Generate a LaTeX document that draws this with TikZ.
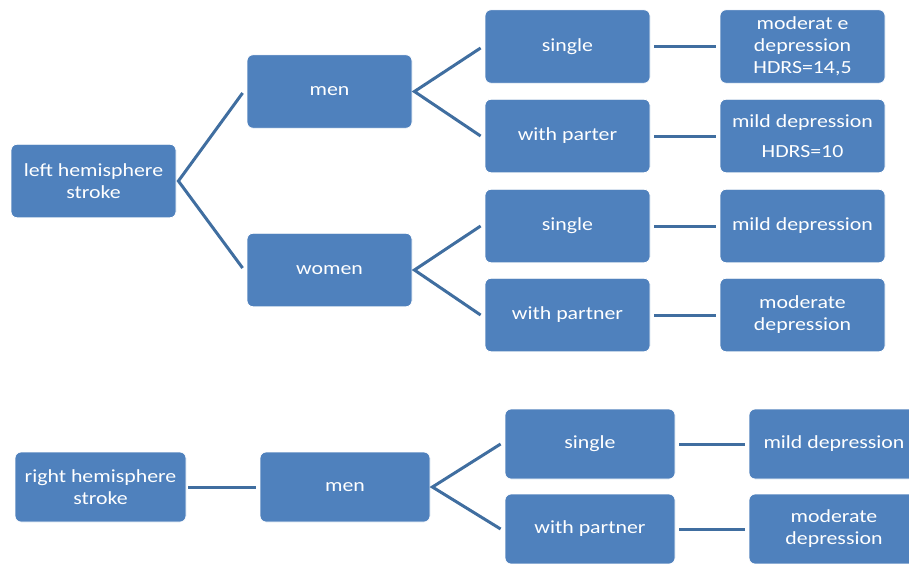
\documentclass[tikz,border=0pt]{standalone}
\usepackage{fontspec}
\setmainfont{Carlito}[FakeStretch=1.18]
\usetikzlibrary{calc}
\definecolor{boxfill}{RGB}{79,129,189}
\definecolor{linkcol}{RGB}{64,110,160}
\tikzset{
  box/.style={draw=white, line width=0.8pt, fill=boxfill, rounded corners=6pt,
    text=white, align=center, inner sep=0pt,
    font=\fontsize{18.5}{22}\selectfont},
  wide/.style={minimum width=165pt, minimum height=73.5pt},
  wider/.style={minimum width=170pt, minimum height=70pt},
  link/.style={draw=linkcol, line width=3pt}
}
\begin{document}
\begin{tikzpicture}[x=1pt, y=-1pt]
  \path[use as bounding box] (0,0) rectangle (909,563);
  \clip (0,0) rectangle (909,563);

  % left hemisphere tree
  \node[box, wide] (lh) at (93.5,181) {left hemisphere\\stroke};
  \node[box, wide] (men) at (329.5,91.5) {men};
  \node[box, wide] (women) at (329.5,270) {women};
  \node[box, wide] (ms) at (567.5,46.5) {single};
  \node[box, wide] (mp) at (567.5,136) {with parter};
  \node[box, wide] (ws) at (567.5,226) {single};
  \node[box, wide] (wp) at (567.5,315) {with partner};
  \node[box, wide] (msr) at (802.5,46.5) {moderat e\\depression\\HDRS=14,5};
  \node[box, wide] (mpr) at (802.5,136) {mild depression\\[8pt]HDRS=10};
  \node[box, wide] (wsr) at (802.5,226) {mild depression};
  \node[box, wide] (wpr) at (802.5,315) {moderate\\depression};

  \draw[link] ($(men.west)+(-4,1.5)$) -- ($(lh.east)+(2,0)$) -- ($(women.west)+(-4,-2)$);
  \draw[link] ($(ms.west)+(-4,1.5)$) -- ($(men.east)+(2,0)$) -- ($(mp.west)+(-4,0)$);
  \draw[link] ($(ws.west)+(-4,0)$) -- ($(women.east)+(2,0)$) -- ($(wp.west)+(-4,0)$);
  \draw[link] ($(ms.east)+(4,0)$) -- ($(msr.west)+(-4,0)$);
  \draw[link] ($(mp.east)+(4,0)$) -- ($(mpr.west)+(-4,0)$);
  \draw[link] ($(ws.east)+(4,0)$) -- ($(wsr.west)+(-4,0)$);
  \draw[link] ($(wp.east)+(4,0)$) -- ($(wpr.west)+(-4,0)$);

  % right hemisphere tree
  \node[box, wider, minimum width=171pt] (rh) at (100.5,487) {right hemisphere\\stroke};
  \node[box, wider] (rmen) at (345,487) {men};
  \node[box, wider] (rs) at (590,444) {single};
  \node[box, wider] (rp) at (590,529) {with partner};
  \node[box, wider] (rsr) at (834,444) {mild depression};
  \node[box, wider] (rpr) at (834,529) {moderate\\depression};

  \draw[link] ($(rh.east)+(2,0)$) -- ($(rmen.west)+(-4,0)$);
  \draw[link] ($(rs.west)+(-4,0)$) -- ($(rmen.east)+(2,0)$) -- ($(rp.west)+(-4,0)$);
  \draw[link] ($(rs.east)+(4,0)$) -- ($(rsr.west)+(-4,0)$);
  \draw[link] ($(rp.east)+(4,0)$) -- ($(rpr.west)+(-4,0)$);
\end{tikzpicture}
\end{document}
